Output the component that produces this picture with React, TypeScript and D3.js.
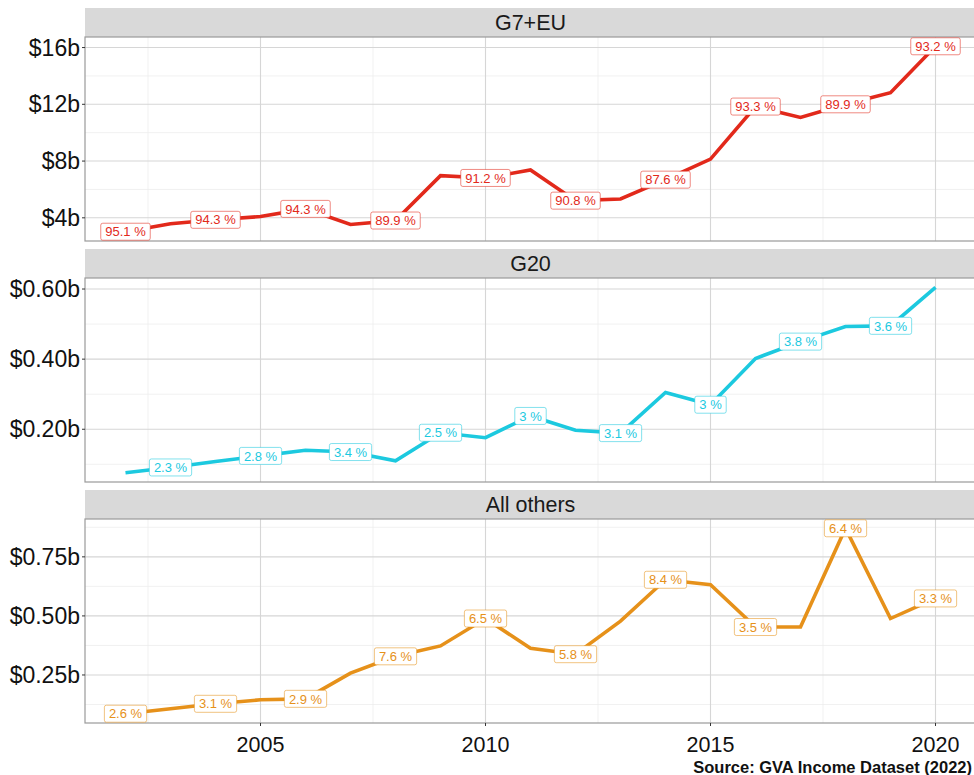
import React, { useRef, useEffect } from 'react';
import * as d3 from 'd3';

// years shown on the x axis
const years = [2002, 2003, 2004, 2005, 2006, 2007, 2008, 2009, 2010, 2011, 2012, 2013, 2014, 2015, 2016, 2017, 2018, 2019, 2020];

// value per year, in billions
const g7Values = [3.02, 3.58, 3.86, 4.09, 4.63, 3.53, 3.81, 6.97, 6.81, 7.37, 5.21, 5.33, 6.69, 8.14, 11.84, 11.07, 12.0, 12.82, 16.09];
const g20Values = [0.076, 0.091, 0.108, 0.124, 0.14, 0.135, 0.11, 0.19, 0.176, 0.238, 0.197, 0.189, 0.305, 0.27, 0.402, 0.45, 0.493, 0.495, 0.605];
const otherValues = [0.086, 0.107, 0.128, 0.145, 0.149, 0.258, 0.329, 0.373, 0.489, 0.363, 0.338, 0.478, 0.653, 0.632, 0.453, 0.453, 0.871, 0.489, 0.574];

// share labels
const g7LabelYears = [2002, 2004, 2006, 2008, 2010, 2012, 2014, 2016, 2018, 2020];
const g7Labels = ['95.1 %', '94.3 %', '94.3 %', '89.9 %', '91.2 %', '90.8 %', '87.6 %', '93.3 %', '89.9 %', '93.2 %'];
const g20LabelYears = [2003, 2005, 2007, 2009, 2011, 2013, 2015, 2017, 2019];
const g20Labels = ['2.3 %', '2.8 %', '3.4 %', '2.5 %', '3 %', '3.1 %', '3 %', '3.8 %', '3.6 %'];
const otherLabelYears = [2002, 2004, 2006, 2008, 2010, 2012, 2014, 2016, 2018, 2020];
const otherLabels = ['2.6 %', '3.1 %', '2.9 %', '7.6 %', '6.5 %', '5.8 %', '8.4 %', '3.5 %', '6.4 %', '3.3 %'];

// y ticks per panel
const g7Ticks = [4, 8, 12, 16];
const g20Ticks = [0.2, 0.4, 0.6];
const otherTicks = [0.25, 0.5, 0.75];
const xTicks = [2005, 2010, 2015, 2020];

const panels = [
  { name: 'G7+EU', values: g7Values, labelYears: g7LabelYears, labels: g7Labels, ticks: g7Ticks, fmt: (d) => `$${d}b`, color: '#E2291B' },
  { name: 'G20', values: g20Values, labelYears: g20LabelYears, labels: g20Labels, ticks: g20Ticks, fmt: (d) => `$${d.toFixed(2)}b`, color: '#1CC9DF' },
  { name: 'All others', values: otherValues, labelYears: otherLabelYears, labels: otherLabels, ticks: otherTicks, fmt: (d) => `$${d.toFixed(2)}b`, color: '#E6911A' },
];

const App = () => {
  const ref = useRef(null);
  const width = 974;
  const height = 775;

  useEffect(() => {
    const svg = d3.select(ref.current);
    svg.selectAll('*').remove();
    svg.attr('width', width).attr('height', height);

    const left = 85;
    const right = 976;
    const font = 'Liberation Sans, Arial, sans-serif';

    const x = d3.scaleLinear().domain([2002 - 0.9, 2020 + 0.9]).range([left, right]);

    panels.forEach((p, i) => {
      const stripTop = 8 + i * 241;
      const top = stripTop + 29;
      const bottom = top + 204;

      const [lo, hi] = d3.extent(p.values);
      const pad = (hi - lo) * 0.05;
      const y = d3.scaleLinear().domain([lo - pad, hi + pad]).range([bottom, top]);

      const g = svg.append('g');

      // strip
      g.append('rect').attr('x', left).attr('y', stripTop).attr('width', right - left).attr('height', 29)
        .attr('fill', '#D9D9D9');
      g.append('text').attr('x', (left + right) / 2).attr('y', stripTop + 14.5).attr('dy', '0.35em')
        .attr('text-anchor', 'middle').attr('font-family', font).attr('font-size', 21.5).attr('fill', '#1a1a1a')
        .text(p.name);

      // grid
      const step = p.ticks[1] - p.ticks[0];
      const minorY = d3.range(p.ticks[0] - step / 2, hi + pad, step).filter(v => v > lo - pad && v < hi + pad);
      g.selectAll('.ymin').data(minorY).enter().append('line')
        .attr('x1', left).attr('x2', right).attr('y1', d => y(d)).attr('y2', d => y(d))
        .attr('stroke', '#EDEDED').attr('stroke-width', 0.8);
      const minorX = [2002.5, 2007.5, 2012.5, 2017.5];
      g.selectAll('.xmin').data(minorX).enter().append('line')
        .attr('y1', top).attr('y2', bottom).attr('x1', d => x(d)).attr('x2', d => x(d))
        .attr('stroke', '#EDEDED').attr('stroke-width', 0.8);
      g.selectAll('.ymaj').data(p.ticks).enter().append('line')
        .attr('x1', left).attr('x2', right).attr('y1', d => y(d)).attr('y2', d => y(d))
        .attr('stroke', '#D6D6D6').attr('stroke-width', 1.1);
      g.selectAll('.xmaj').data(xTicks).enter().append('line')
        .attr('y1', top).attr('y2', bottom).attr('x1', d => x(d)).attr('x2', d => x(d))
        .attr('stroke', '#D6D6D6').attr('stroke-width', 1.1);

      // border
      g.append('rect').attr('x', left).attr('y', top).attr('width', right - left).attr('height', bottom - top)
        .attr('fill', 'none').attr('stroke', '#9A9A9A').attr('stroke-width', 1.2);

      // y axis ticks + labels
      g.selectAll('.yt').data(p.ticks).enter().append('line')
        .attr('x1', left - 3).attr('x2', left).attr('y1', d => y(d)).attr('y2', d => y(d))
        .attr('stroke', '#333').attr('stroke-width', 1);
      g.selectAll('.yl').data(p.ticks).enter().append('text')
        .attr('x', left - 5).attr('y', d => y(d)).attr('dy', '0.35em').attr('text-anchor', 'end')
        .attr('font-family', font).attr('font-size', 23).attr('fill', '#111')
        .text(d => p.fmt(d));

      // line
      const line = d3.line().x((d, j) => x(years[j])).y(d => y(d));
      g.append('path').datum(p.values).attr('d', line).attr('fill', 'none')
        .attr('stroke', p.color).attr('stroke-width', 3.6).attr('stroke-linejoin', 'miter');

      // labels
      p.labelYears.forEach((yr, k) => {
        const v = p.values[years.indexOf(yr)];
        const cx = x(yr);
        const cy = y(v);
        const lg = g.append('g');
        const t = lg.append('text').attr('x', cx).attr('y', cy).attr('dy', '0.36em').attr('text-anchor', 'middle')
          .attr('font-family', font).attr('font-size', 13).attr('fill', p.color).text(p.labels[k]);
        const w = t.node().getComputedTextLength() + 9;
        lg.insert('rect', 'text').attr('x', cx - w / 2).attr('y', cy - 8.5).attr('width', w).attr('height', 17)
          .attr('rx', 2).attr('fill', 'white').attr('stroke', p.color).attr('stroke-opacity', 0.55).attr('stroke-width', 1);
      });

      // x axis on last panel
      if (i === panels.length - 1) {
        g.selectAll('.xt').data(xTicks).enter().append('line')
          .attr('y1', bottom).attr('y2', bottom + 3).attr('x1', d => x(d)).attr('x2', d => x(d))
          .attr('stroke', '#333').attr('stroke-width', 1);
        g.selectAll('.xl').data(xTicks).enter().append('text')
          .attr('x', d => x(d)).attr('y', bottom + 29).attr('text-anchor', 'middle')
          .attr('font-family', font).attr('font-size', 21.5).attr('fill', '#111').text(d => d);
      }
    });

    svg.append('text').attr('x', 972).attr('y', 773).attr('text-anchor', 'end')
      .attr('font-family', font).attr('font-size', 16.5).attr('font-weight', 'bold').attr('fill', '#111')
      .text('Source: GVA Income Dataset (2022)');
  }, []);

  return (
    <div style={{ position: 'absolute', left: 0, top: 0 }}>
      <svg ref={ref}></svg>
    </div>
  );
};

export default App;
